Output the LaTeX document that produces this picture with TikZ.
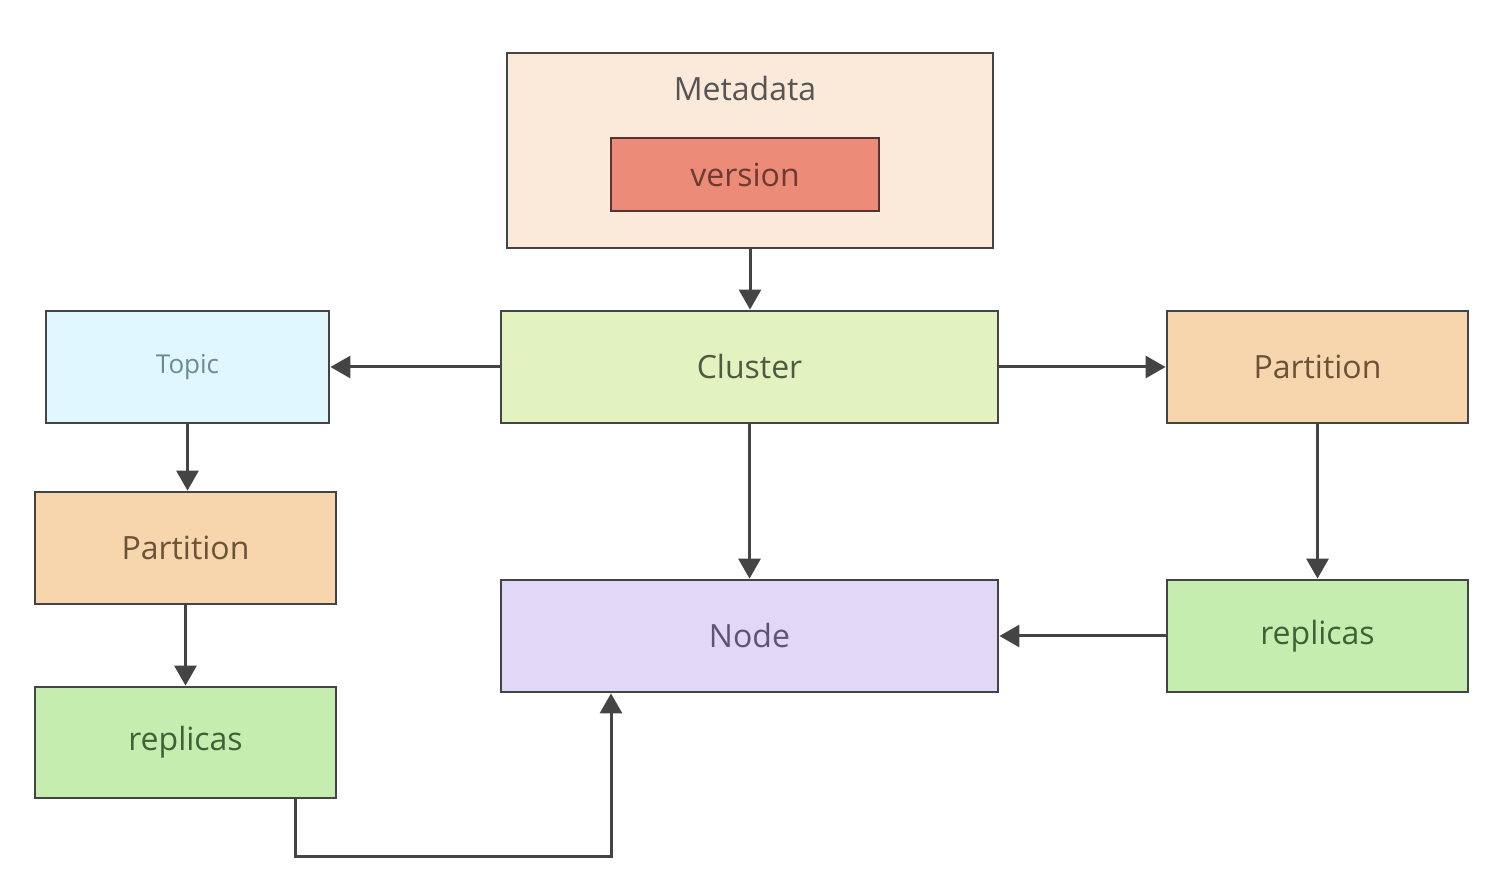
\documentclass[tikz,border=0pt]{standalone}
\usepackage{fontspec}
\setmainfont{Open Sans}
\usetikzlibrary{arrows.meta}

\definecolor{metaFill}{HTML}{FBE9D9}
\definecolor{versionFill}{HTML}{EC8B78}
\definecolor{clusterFill}{HTML}{E3F3C0}
\definecolor{topicFill}{HTML}{DFF7FD}
\definecolor{partFill}{HTML}{F7D5AD}
\definecolor{nodeFill}{HTML}{E1D7F7}
\definecolor{replFill}{HTML}{C5EDB0}
\definecolor{lineGrey}{HTML}{444444}
\definecolor{metaText}{HTML}{555555}
\definecolor{versionText}{HTML}{6B3A33}
\definecolor{versionLine}{HTML}{553530}
\definecolor{clusterText}{HTML}{4F5A45}
\definecolor{topicText}{HTML}{6A8A95}
\definecolor{partText}{HTML}{6B5238}
\definecolor{nodeText}{HTML}{5E5570}
\definecolor{replText}{HTML}{3F6135}

\begin{document}
\begin{tikzpicture}
[x=0.5pt,y=-0.5pt,
  boxDecorate/.style={shape=rectangle,draw=lineGrey,line width=1.4pt,inner sep=0pt,
    minimum height=56pt,font=\fontsize{16}{19}\selectfont},%
  arrowDecorate/.style={-{Triangle[length=10pt,width=11pt]},draw=lineGrey,line width=1.5pt},%
  ]
\useasboundingbox (0,0) rectangle (1506,876);
%% container
\node (meta) at (750,150.5) [boxDecorate,fill=metaFill,minimum width=243pt,minimum height=97.5pt] {};
\node (metaLabel) at (745,89) [font=\fontsize{16}{19}\selectfont,text=metaText] {Metadata};
\node (version) at (745,174.5) [boxDecorate,fill=versionFill,draw=versionLine,
  minimum width=134pt,minimum height=36.5pt,text=versionText] {version};
%% nodes or vertices
\node (cluster) at (749.5,367) [boxDecorate,fill=clusterFill,minimum width=248.5pt,text=clusterText] {Cluster};
\node (topic) at (187.5,367) [boxDecorate,fill=topicFill,minimum width=141.5pt,
  text=topicText,font=\fontsize{13}{16}\selectfont] {Topic};
\node (partR) at (1317.5,367) [boxDecorate,fill=partFill,minimum width=150.5pt,text=partText] {Partition};
\node (partL) at (185.5,548) [boxDecorate,fill=partFill,minimum width=150.5pt,text=partText] {Partition};
\node (node) at (749.5,636) [boxDecorate,fill=nodeFill,minimum width=248.5pt,text=nodeText] {Node};
\node (replR) at (1317.5,636) [boxDecorate,fill=replFill,minimum width=150.5pt,text=replText] {replicas};
\node (replL) at (185.5,742.5) [boxDecorate,fill=replFill,minimum width=150.5pt,minimum height=55.5pt,text=replText] {replicas};
%% edges or lines
\draw[arrowDecorate] (meta.south) -- (meta.south |- cluster.north);
\foreach \startnode/\endnode in {cluster/topic, cluster/partR, replR/node}
{
  \draw[arrowDecorate] (\startnode) -- (\endnode);
}
\draw[arrowDecorate] (cluster) -- (node);
\draw[arrowDecorate] (partR) -- (replR);
\draw[arrowDecorate] (topic.south) -- (topic.south |- partL.north);
\draw[arrowDecorate] (partL) -- (replL);
\coordinate (loopL) at (295,857);
\coordinate (loopR) at (611,857);
\draw[arrowDecorate] (replL.south -| loopL) -- (loopL) -- (loopR) -- (loopR |- node.south);
\end{tikzpicture}
\end{document}
